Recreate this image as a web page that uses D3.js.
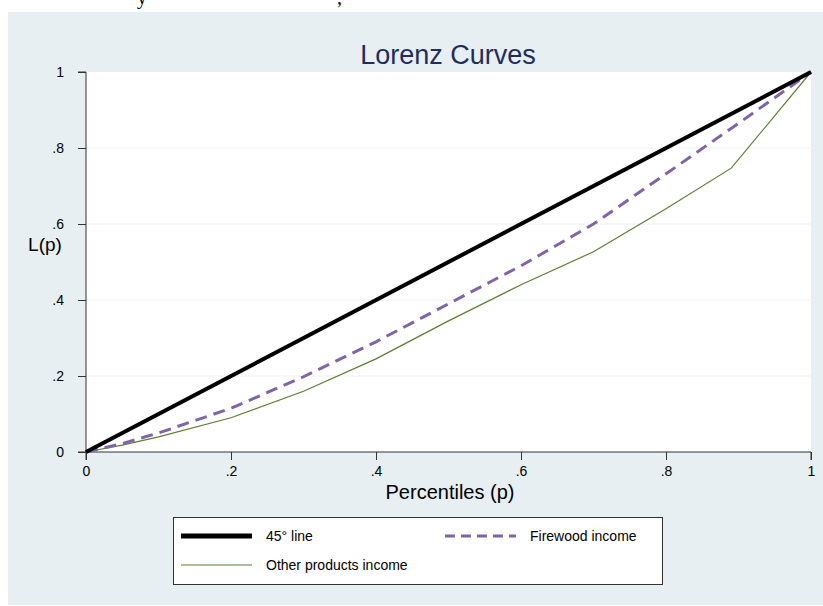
<!DOCTYPE html>
<html>
<head>
<meta charset="utf-8">
<script src="https://cdn.jsdelivr.net/npm/d3@7"></script>
<style>
  body { margin: 0; background: #fff; }
  text { font-family: Arial, "Liberation Sans", sans-serif; }
</style>
</head>
<body>
<svg id="chart" width="823" height="606"></svg>
<script>
// data
const diagP = [0, 1];
const diagL = [0, 1];

const firewoodP = [0, 0.05, 0.1, 0.2, 0.3, 0.4, 0.5, 0.56, 0.6, 0.7, 0.8, 0.9, 1];
const firewoodL = [0, 0.022, 0.05, 0.115, 0.198, 0.29, 0.39, 0.45, 0.49, 0.6, 0.732, 0.865, 1];

const otherP = [0, 0.05, 0.1, 0.2, 0.3, 0.4, 0.5, 0.6, 0.7, 0.8, 0.89, 1];
const otherL = [0, 0.018, 0.04, 0.09, 0.16, 0.245, 0.345, 0.44, 0.527, 0.64, 0.747, 1];

const xTicks = [0, 0.2, 0.4, 0.6, 0.8, 1];
const yTicks = [0, 0.2, 0.4, 0.6, 0.8, 1];
const tickFmt = d => d === 0 ? "0" : d === 1 ? "1" : String(d).replace("0.", ".");

const svg = d3.select("#chart");

// bit of page text cut off at the top
svg.append("text").attr("x", 137).attr("y", 4)
  .style("font-family", "'Liberation Serif', serif").style("font-size", "20px").text("y");
svg.append("text").attr("x", 337).attr("y", 4)
  .style("font-family", "'Liberation Serif', serif").style("font-size", "20px").text(",");

// outer panel
svg.append("rect").attr("x", 8).attr("y", 12).attr("width", 815).attr("height", 593)
  .attr("fill", "#e7eff2");

const x = d3.scaleLinear().domain([0, 1]).range([86, 811]);
const y = d3.scaleLinear().domain([0, 1]).range([452, 72]);

// plot region
svg.append("rect").attr("x", x(0)).attr("y", y(1))
  .attr("width", x(1) - x(0)).attr("height", y(0) - y(1)).attr("fill", "#fff");

// grid
svg.append("g").selectAll("line").data(yTicks.filter(d => d > 0 && d < 1)).join("line")
  .attr("x1", x(0)).attr("x2", x(1))
  .attr("y1", d => y(d)).attr("y2", d => y(d))
  .attr("stroke", "#eaf1f2").attr("stroke-width", 1);

// axes
const yAxis = svg.append("g").attr("transform", `translate(${x(0)},0)`)
  .call(d3.axisLeft(y).tickValues(yTicks).tickFormat(tickFmt).tickSize(8).tickPadding(14));
const xAxis = svg.append("g").attr("transform", `translate(0,${y(0)})`)
  .call(d3.axisBottom(x).tickValues(xTicks).tickFormat(tickFmt).tickSize(8).tickPadding(6));
[xAxis, yAxis].forEach(a => {
  a.select(".domain").attr("stroke", "#333").attr("stroke-width", 1);
  a.selectAll(".tick line").attr("stroke", "#333");
  a.selectAll("text").style("font-size", "14px").attr("fill", "#000")
    .style("font-family", "Arial, 'Liberation Sans', sans-serif");
});
xAxis.select(".domain").attr("d", `M${x(0)},8V0H${x(1)}V8`);
yAxis.select(".domain").attr("d", `M-8,${y(1)}H0V${y(0)}H-8`);

// lines
const line = (ps, ls) => d3.line().x(i => x(ps[i])).y(i => y(ls[i]))(d3.range(ps.length));

svg.append("path").attr("d", line(otherP, otherL))
  .attr("fill", "none").attr("stroke", "#5b7f33").attr("stroke-width", 1.2);
svg.append("path").attr("d", line(firewoodP, firewoodL))
  .attr("fill", "none").attr("stroke", "#8064a8").attr("stroke-width", 3)
  .attr("stroke-dasharray", "12,7");
svg.append("path").attr("d", line(diagP, diagL))
  .attr("fill", "none").attr("stroke", "#000").attr("stroke-width", 4);

// titles
svg.append("text").attr("x", 448).attr("y", 64).attr("text-anchor", "middle")
  .style("font-size", "27px").attr("fill", "#1f2d5c").text("Lorenz Curves");
svg.append("text").attr("x", 450).attr("y", 499).attr("text-anchor", "middle")
  .style("font-size", "20px").text("Percentiles (p)");
svg.append("text").attr("x", 45).attr("y", 251).attr("text-anchor", "middle")
  .style("font-size", "19px").text("L(p)");

// legend
const leg = svg.append("g");
leg.append("rect").attr("x", 173.5).attr("y", 517.5).attr("width", 489).attr("height", 67)
  .attr("fill", "#fff").attr("stroke", "#333");
const items = [
  { label: "45° line", x: 181, y: 536, stroke: "#000", w: 5, dash: null },
  { label: "Firewood income", x: 445, y: 536, stroke: "#8064a8", w: 3, dash: "10,6" },
  { label: "Other products income", x: 181, y: 565, stroke: "#5b7f33", w: 1.2, dash: null }
];
items.forEach(it => {
  leg.append("line").attr("x1", it.x).attr("x2", it.x + 71).attr("y1", it.y).attr("y2", it.y)
    .attr("stroke", it.stroke).attr("stroke-width", it.w).attr("stroke-dasharray", it.dash);
  leg.append("text").attr("x", it.x + 85).attr("y", it.y + 5)
    .style("font-size", "14px").text(it.label);
});
</script>
</body>
</html>
